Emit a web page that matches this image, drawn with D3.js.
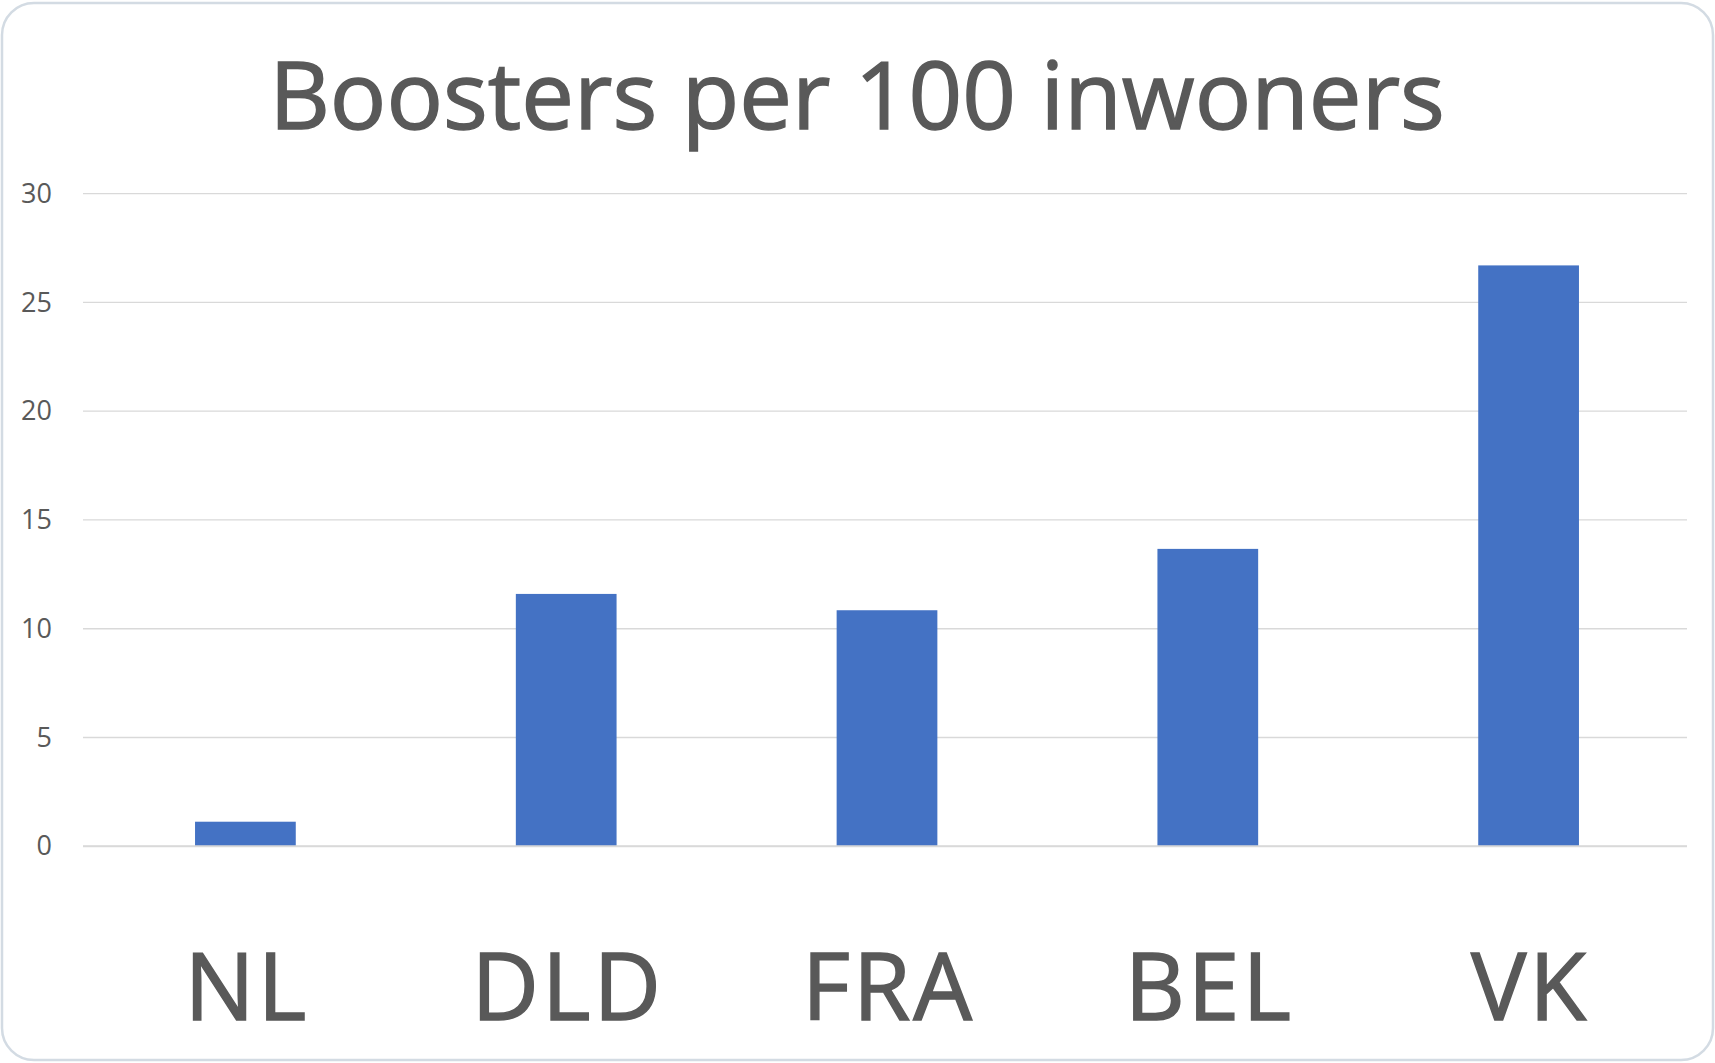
<!DOCTYPE html>
<html>
<head>
<meta charset="utf-8">
<script src="https://cdn.jsdelivr.net/npm/d3@7"></script>
<style>
  html, body { margin: 0; padding: 0; background: #ffffff; }
  svg { display: block; }
</style>
</head>
<body>
<svg id="chart" width="1715" height="1063"></svg>
<script>
const title = "Boosters per 100 inwoners";
const categories = ["NL", "DLD", "FRA", "BEL", "VK"];
const values = [1.13, 11.6, 10.85, 13.67, 26.7];
const yTicks = [0, 5, 10, 15, 20, 25, 30];

const W = 1715, H = 1063;
const svg = d3.select("#chart");
const font = "'Open Sans', 'Noto Sans', sans-serif";
const textColor = "#595959";

// frame
svg.append("rect")
  .attr("x", 2).attr("y", 3).attr("width", W - 4).attr("height", H - 6)
  .attr("rx", 32).attr("ry", 32)
  .attr("fill", "#ffffff").attr("stroke", "#d3dbe3").attr("stroke-width", 2.5);

const plot = { left: 83, right: 1687, top: 193.6, bottom: 846.3 };

const x = d3.scaleBand().domain(categories).range([plot.left + 2, plot.right + 2]).paddingInner(0.686).paddingOuter(0.343);
const y = d3.scaleLinear().domain([0, 30]).range([plot.bottom, plot.top]);

// gridlines
svg.append("g").selectAll("line").data(yTicks).join("line")
  .attr("x1", plot.left).attr("x2", plot.right)
  .attr("y1", d => y(d)).attr("y2", d => y(d))
  .attr("stroke", "#d9d9d9").attr("stroke-width", 1.3);

// y-axis via d3.axisLeft
const yAxis = svg.append("g").attr("transform", `translate(${plot.left},0)`)
  .call(d3.axisLeft(y).tickValues(yTicks).tickSize(0).tickPadding(31));
yAxis.select(".domain").remove();
yAxis.selectAll("text").attr("font-family", font).attr("font-size", 27).attr("fill", textColor);

// bars
svg.append("g").selectAll("rect").data(values).join("rect")
  .attr("x", (d, i) => x(categories[i]))
  .attr("width", x.bandwidth())
  .attr("y", d => y(d))
  .attr("height", d => y(0) - y(d))
  .attr("fill", "#4472C4");

// baseline
svg.append("line").attr("x1", plot.left).attr("x2", plot.right)
  .attr("y1", y(0)).attr("y2", y(0)).attr("stroke", "#d9d9d9").attr("stroke-width", 2);

// x-axis labels
const xAxis = svg.append("g").attr("transform", `translate(1.5,${plot.bottom})`)
  .call(d3.axisBottom(x).tickSize(0).tickPadding(0));
xAxis.select(".domain").remove();
xAxis.selectAll("text")
  .attr("dy", null).attr("y", 174)
  .attr("font-family", font).attr("font-size", 93).attr("fill", textColor)
  .attr("letter-spacing", 3)
  .attr("stroke", textColor).attr("stroke-width", 1.5);

// title
svg.append("text").attr("x", 857).attr("y", 129)
  .attr("text-anchor", "middle")
  .attr("font-family", font).attr("font-size", 94).attr("fill", textColor)
  .attr("stroke", textColor).attr("stroke-width", 1.4)
  .text(title);
</script>
</body>
</html>
